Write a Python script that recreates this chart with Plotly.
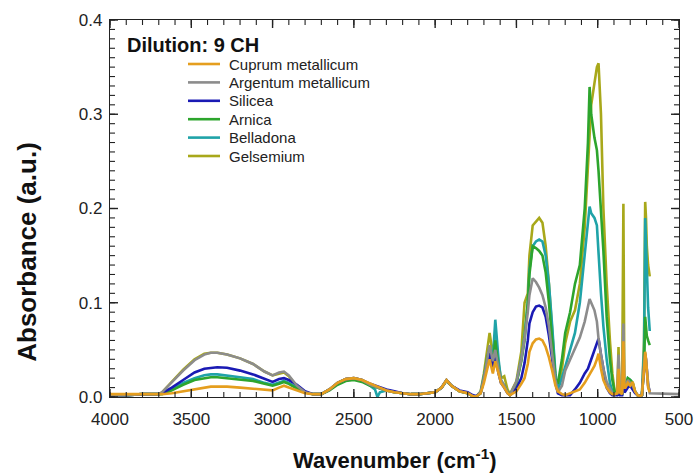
import plotly.graph_objects as go

wavenumber = [4000, 3900, 3800, 3700, 3680, 3620, 3550, 3480, 3420, 3380, 3340, 3280, 3200, 3120,
              3050, 3000, 2960, 2930, 2900, 2850, 2800, 2750, 2700, 2650, 2600, 2550, 2500, 2450,
              2400, 2370, 2355, 2340, 2300, 2250, 2200, 2150, 2100, 2050, 2000, 1960, 1930, 1900,
              1850, 1800, 1770, 1750, 1720, 1700, 1680, 1665, 1645, 1630, 1610, 1595, 1575, 1555,
              1540, 1500, 1470, 1450, 1430, 1420, 1400, 1380, 1360, 1340, 1320, 1300, 1280, 1260,
              1245, 1220, 1200, 1170, 1140, 1110, 1080, 1060, 1050, 1040, 1020, 1005, 995, 980,
              965, 945, 925, 910, 895, 880, 872, 865, 850, 842, 836, 830, 815, 800, 785, 770,
              755, 740, 728, 715, 708, 703, 698, 690, 680]

cuprum = [.003, .003, .003, .003, .003, .004, .006, .008, .010, .011, .011, .011, .010, .009,
          .008, .007, .010, .012, .010, .007, .004, .003, .003, .008, .015, .019, .020, .018,
          .014, .012, .011, .010, .007, .005, .004, .003, .003, .004, .005, .010, .018, .012,
          .006, .004, .001, .000, .004, .015, .030, .040, .025, .038, .025, .015, .010, .004,
          .002, .006, .014, .020, .035, .048, .057, .061, .062, .060, .053, .042, .028, .012,
          .006, .003, .002, .004, .006, .008, .015, .021, .024, .027, .033, .040, .046, .030,
          .018, .010, .005, .003, .003, .004, .030, .005, .003, .059, .010, .010, .015, .012,
          .016, .006, .002, .001, .002, .030, .048, .040, .025, .010, .005]

argentum = [.002, .002, .003, .003, .005, .016, .028, .039, .045, .047, .047, .045, .041, .035,
            .027, .023, .026, .027, .023, .012, .005, .003, .003, .008, .015, .019, .020, .018,
            .013, .011, .010, .009, .007, .005, .004, .003, .003, .004, .005, .010, .018, .012,
            .006, .004, .001, .000, .005, .020, .040, .055, .038, .050, .030, .018, .012, .005,
            .002, .016, .040, .062, .090, .108, .126, .122, .116, .108, .095, .075, .045, .018,
            .005, .012, .028, .040, .050, .063, .080, .098, .104, .100, .092, .080, .062, .045,
            .030, .016, .008, .004, .003, .004, .045, .008, .004, .078, .012, .010, .018, .015,
            .012, .006, .002, .001, .002, .035, .047, .040, .030, .015, .004, .003]
argentum_wavenumber = wavenumber + [500]

silicea = [.002, .002, .003, .003, .004, .010, .018, .026, .030, .031, .0315, .031, .028, .024,
           .019, .016, .019, .020, .018, .013, .006, .003, .003, .008, .015, .019, .020, .018,
           .014, .012, .011, .010, .008, .006, .004, .003, .003, .004, .005, .010, .018, .012,
           .007, .005, .002, .001, .004, .018, .035, .048, .032, .042, .025, .015, .010, .004,
           .002, .009, .020, .036, .060, .078, .090, .096, .097, .095, .085, .065, .040, .015,
           .004, .002, .002, .002, .008, .015, .025, .030, .035, .040, .050, .058, .062, .045,
           .030, .010, .004, .002, .002, .002, .005, .002, .002, .018, .005, .006, .010, .012,
           .008, .004, .002, .001, .002, .030, .045, .040, .030, .012, .006]

arnica = [.002, .002, .003, .003, .003, .007, .013, .018, .020, .021, .021, .020, .019, .017,
          .014, .012, .014, .016, .014, .009, .005, .003, .003, .007, .013, .017, .018, .016,
          .012, .011, .010, .009, .007, .005, .004, .003, .003, .004, .005, .010, .017, .012,
          .006, .004, .001, .000, .004, .020, .042, .052, .038, .060, .030, .016, .012, .005,
          .002, .014, .038, .060, .100, .130, .160, .158, .155, .150, .132, .100, .055, .020,
          .014, .040, .068, .090, .120, .140, .200, .270, .329, .300, .275, .262, .240, .200,
          .155, .085, .040, .018, .005, .003, .008, .003, .003, .010, .005, .012, .020, .018,
          .015, .005, .002, .001, .002, .030, .085, .075, .065, .060, .055]

belladona = [.002, .002, .003, .003, .004, .008, .015, .020, .023, .024, .024, .023, .021, .019,
             .015, .013, .015, .017, .015, .010, .005, .003, .003, .008, .014, .018, .019, .017,
             .012, .008, .000, .005, .007, .005, .004, .003, .003, .004, .005, .010, .018, .012,
             .006, .004, .001, .000, .005, .022, .040, .050, .040, .082, .040, .018, .012, .005,
             .002, .015, .040, .065, .100, .135, .160, .165, .167, .165, .150, .120, .075, .025,
             .007, .020, .032, .050, .068, .100, .150, .185, .202, .195, .190, .182, .150, .110,
             .075, .040, .015, .006, .003, .003, .010, .004, .003, .015, .005, .010, .020, .018,
             .015, .006, .002, .001, .002, .050, .190, .165, .130, .095, .070]

gelsemium = [.002, .002, .003, .003, .005, .016, .029, .040, .046, .047, .047, .045, .041, .035,
             .027, .023, .025, .026, .022, .011, .005, .003, .003, .008, .015, .019, .020, .018,
             .013, .011, .010, .009, .007, .005, .004, .003, .003, .004, .005, .010, .018, .012,
             .006, .004, .001, .000, .006, .025, .050, .068, .045, .065, .035, .020, .022, .008,
             .003, .017, .048, .100, .110, .150, .182, .186, .190, .185, .160, .120, .065, .020,
             .012, .030, .057, .080, .092, .120, .180, .240, .270, .310, .333, .350, .354, .300,
             .200, .120, .060, .025, .005, .003, .053, .005, .003, .205, .010, .010, .015, .012,
             .010, .005, .002, .001, .002, .060, .207, .190, .160, .140, .128]

x_ticks = [4000, 3500, 3000, 2500, 2000, 1500, 1000, 500]
y_ticks = [0.0, 0.1, 0.2, 0.3, 0.4]
x_minor_ticks = list(range(500, 4001, 100))
y_minor_ticks = [i / 100 for i in range(0, 41)]

X_RANGE = [4000, 500]
Y_RANGE = [0, 0.4]

series = [
    ("Cuprum metallicum", wavenumber, cuprum, "#E59E1E"),
    ("Argentum metallicum", argentum_wavenumber, argentum, "#8C8C8C"),
    ("Silicea", wavenumber, silicea, "#1A1AB4"),
    ("Arnica", wavenumber, arnica, "#2DA52D"),
    ("Belladona", wavenumber, belladona, "#1FA3A8"),
    ("Gelsemium", wavenumber, gelsemium, "#A8A81A"),
]

FONT = "Liberation Sans, Arial, sans-serif"
AX = "#222222"
plot_l, plot_w, plot_b, plot_h = 110, 569, 397, 377

fig = go.Figure()
for name, xs, ys, col in reversed(series):
    fig.add_trace(go.Scatter(x=xs, y=ys, mode="lines", name=name, showlegend=False,
                             line=dict(color=col, width=2.6)))

# inward tick marks on all four sides, drawn as a line trace in axis units
x_per_px = (X_RANGE[0] - X_RANGE[1]) / plot_w
y_per_px = (Y_RANGE[1] - Y_RANGE[0]) / plot_h

def tick_segments(xvals, yvals, length_px):
    tx, ty = [], []
    dy = length_px * y_per_px
    dx = length_px * x_per_px
    for v in xvals:
        tx += [v, v, None, v, v, None]
        ty += [Y_RANGE[0], Y_RANGE[0] + dy, None, Y_RANGE[1], Y_RANGE[1] - dy, None]
    for v in yvals:
        tx += [X_RANGE[0], X_RANGE[0] - dx, None, X_RANGE[1], X_RANGE[1] + dx, None]
        ty += [v, v, None, v, v, None]
    return tx, ty

mx, my = tick_segments(x_minor_ticks, y_minor_ticks, 5)
fig.add_trace(go.Scatter(x=mx, y=my, mode="lines", showlegend=False, hoverinfo="skip",
                         cliponaxis=False, line=dict(color=AX, width=1.1)))
Mx, My = tick_segments(x_ticks, y_ticks, 8)
fig.add_trace(go.Scatter(x=Mx, y=My, mode="lines", showlegend=False, hoverinfo="skip",
                         cliponaxis=False, line=dict(color=AX, width=1.4)))

fig.update_xaxes(range=X_RANGE, tickmode="array", tickvals=x_ticks,
                 ticktext=[str(v) for v in x_ticks],
                 showgrid=False, zeroline=False, showline=True, linecolor=AX, linewidth=1.3,
                 mirror=True, ticks="", ticklabelstandoff=6,
                 tickfont=dict(family=FONT, size=17, color="#222"))
fig.update_yaxes(range=Y_RANGE, tickmode="array", tickvals=y_ticks,
                 ticktext=["%.1f" % v for v in y_ticks],
                 showgrid=False, zeroline=False, showline=True, linecolor=AX, linewidth=1.3,
                 mirror=True, ticks="", ticklabelstandoff=3,
                 tickfont=dict(family=FONT, size=17, color="#222"))

# manual legend (rows tighter than plotly's built-in legend allows)
LEG_X0, LEG_X1, LEG_TX = 188, 220, 227  # pixel positions within the figure
LEG_Y0, LEG_DY = 64, 18.4
for i, (name, xs, ys, col) in enumerate(series):
    ypx = LEG_Y0 + i * LEG_DY
    yp = (plot_b - ypx) / plot_h
    fig.add_shape(type="line", xref="paper", yref="paper",
                  x0=(LEG_X0 - plot_l) / plot_w, x1=(LEG_X1 - plot_l) / plot_w,
                  y0=yp, y1=yp, line=dict(color=col, width=2.6))
    fig.add_annotation(text=name, xref="paper", yref="paper",
                       x=(LEG_TX - plot_l) / plot_w, y=yp, xanchor="left", yanchor="middle",
                       showarrow=False, font=dict(family=FONT, size=15, color="#222"))

fig.add_annotation(text="<b>Dilution: 9 CH</b>", xref="paper", yref="paper",
                   x=0.026, y=0.934, xanchor="left", yanchor="middle", showarrow=False,
                   font=dict(family=FONT, size=20, color="#111"))
fig.add_annotation(text="<b>Absorbance (a.u.)</b>", xref="paper", yref="paper",
                   x=-0.146, y=0.385, xanchor="center", yanchor="middle", showarrow=False,
                   textangle=-90, font=dict(family=FONT, size=26, color="#111"))
fig.add_annotation(text="<b>Wavenumber (cm<sup>-1</sup>)</b>", xref="paper", yref="paper",
                   x=0.5, y=(plot_b - 459) / plot_h, xanchor="center", yanchor="middle",
                   showarrow=False, font=dict(family=FONT, size=22, color="#111"))

fig.update_layout(
    width=695, height=475,
    margin=dict(l=110, r=16, t=20, b=78, autoexpand=False),
    paper_bgcolor="white", plot_bgcolor="white",
    showlegend=False,
)

fig.write_html("out.html")
